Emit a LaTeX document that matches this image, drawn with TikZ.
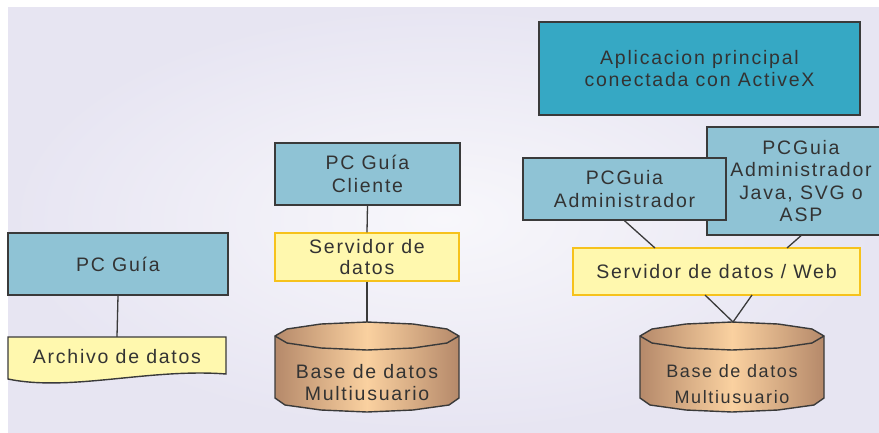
\documentclass[tikz,border=0pt]{standalone}
\usepackage{fontspec}
\setmainfont{Liberation Sans}[LetterSpace=9]
\usetikzlibrary{calc}
\definecolor{bgl}{HTML}{E7E5F2}
\definecolor{pcblue}{HTML}{8FC3D5}
\definecolor{apblue}{HTML}{36A8C4}
\definecolor{srvyel}{HTML}{FFF8AE}
\definecolor{srvgold}{HTML}{F6C21C}
\definecolor{lineg}{HTML}{3A3A3A}
\definecolor{txt}{HTML}{333333}
\definecolor{cyldark}{HTML}{B5896A}
\definecolor{cyllight}{HTML}{FAD1A0}
\tikzset{
  every node/.style={font=\fontsize{19.5}{23}\selectfont, text=txt},
  pcbox/.style={draw=lineg, line width=1.4pt, fill=pcblue, inner sep=0pt, align=center},
  srvbox/.style={draw=srvgold, line width=1.4pt, fill=srvyel, inner sep=0pt, align=center},
  plain/.style={inner sep=0pt, align=center},
  conn/.style={draw=lineg, line width=1.3pt},
  cylshape/.style={draw=lineg, line width=1.4pt, left color=cyldark, right color=cyldark, middle color=cyllight},
}
\begin{document}
\begin{tikzpicture}[x=1pt,y=-1pt]
\useasboundingbox (0,0) rectangle (879,432);
% background
\shade[inner color=white!70!bgl, outer color=bgl] (8,7) rectangle (879,432);

% ---- left group
\node[pcbox, minimum width=220pt, minimum height=62pt] (pc) at (118,264) {PC Guía};
\filldraw[draw=lineg, line width=1.4pt, fill=srvyel]
  (8,337) -- (226,337) -- (226,374) .. controls (150,368) and (70,392) .. (8,379) -- cycle;
\node[plain, minimum width=218pt, minimum height=40pt] (arch) at (117,357) {Archivo de datos};
\draw[conn] (pc.south) -- (arch.north);

% ---- middle group
\node[pcbox, minimum width=185pt, minimum height=62pt] (cli) at (367.5,174) {PC Guía\\Cliente};
\node[srvbox, minimum width=184pt, minimum height=48pt] (srv) at (367,257) {Servidor de\\[-2pt]datos};
\begin{scope}[shift={(367,0)}]
  \path[cylshape] (-92,336) -- (-80,329) -- (-46,324) -- (0,322) -- (46,324) -- (80,329) -- (92,336)
     -- (92,398) -- (82,405) -- (46,410) -- (0,412) -- (-46,410) -- (-82,405) -- (-92,398) -- cycle;
  \draw[draw=lineg, line width=1.4pt] (-92,336) -- (-80,343) -- (-46,348) -- (0,350) -- (46,348) -- (80,343) -- (92,336);
\end{scope}
\coordinate (db1top) at (367,322);
\node[plain] (db1) at (367,383) {Base de datos\\[-1pt]Multiusuario};
\draw[conn] (cli.south) -- (srv.north);
\draw[conn] (srv.south) -- (db1top);

% ---- right group
\node[pcbox, minimum width=321pt, minimum height=93pt, fill=apblue] (app) at (699.5,68.5) {Aplicacion principal\\[-1pt]conectada con ActiveX};
\begin{scope}
  \clip (0,0) rectangle (879,432);
  \node[pcbox, minimum width=188pt, minimum height=108pt] (java) at (801,181) {PCGuia\\[-0.5pt]Administrador\\[-0.5pt]Java, SVG o\\[-0.5pt]ASP};
\end{scope}
\node[pcbox, minimum width=203pt, minimum height=62pt] (adm) at (624.5,189) {PCGuia\\Administrador};
\node[srvbox, minimum width=287pt, minimum height=47pt] (web) at (716.5,271.5) {Servidor de datos / Web};
\begin{scope}[shift={(732,0)}]
  \path[cylshape] (-92,336) -- (-80,329) -- (-46,324) -- (0,322) -- (46,324) -- (80,329) -- (92,336)
     -- (92,398) -- (82,405) -- (46,410) -- (0,412) -- (-46,410) -- (-82,405) -- (-92,398) -- cycle;
  \draw[draw=lineg, line width=1.4pt] (-92,336) -- (-80,343) -- (-46,348) -- (0,350) -- (46,348) -- (80,343) -- (92,336);
\end{scope}
\coordinate (db2top) at (733,322);
\node[plain, font=\fontsize{18}{26}\selectfont] (db2) at (732,384) {Base de datos\\Multiusuario};
\coordinate (w1) at (655,248);
\coordinate (w2) at (787,248);
\coordinate (w3) at (705,295);
\coordinate (w4) at (752,295);
\draw[conn] (adm.south) -- (w1);
\draw[conn] (java.south) -- (w2);
\draw[conn] (w3) -- (db2top) -- (w4);
\end{tikzpicture}
\end{document}
